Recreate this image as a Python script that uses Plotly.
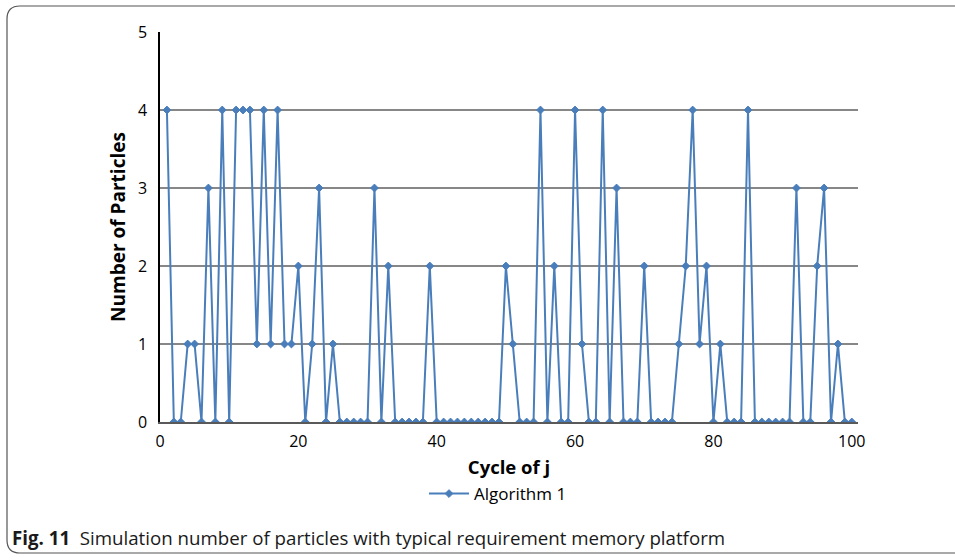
import plotly.graph_objects as go

# ---- data ----
cycles = list(range(1, 101))
particles = [
    4, 0, 0, 1, 1, 0, 3, 0, 4, 0,
    4, 4, 4, 1, 4, 1, 4, 1, 1, 2,
    0, 1, 3, 0, 1, 0, 0, 0, 0, 0,
    3, 0, 2, 0, 0, 0, 0, 0, 2, 0,
    0, 0, 0, 0, 0, 0, 0, 0, 0, 2,
    1, 0, 0, 0, 4, 0, 2, 0, 0, 4,
    1, 0, 0, 4, 0, 3, 0, 0, 0, 2,
    0, 0, 0, 0, 1, 2, 4, 1, 2, 0,
    1, 0, 0, 0, 4, 0, 0, 0, 0, 0,
    0, 3, 0, 0, 2, 3, 0, 1, 0, 0,
]
series_name = "Algorithm 1"
x_title = "Cycle of j"
y_title = "Number of Particles"
caption_bold = "Fig. 11"
caption_text = "Simulation number of particles with typical requirement memory platform"
x_ticks = [0, 20, 40, 60, 80, 100]
y_ticks = [0, 1, 2, 3, 4, 5]

# ---- layout geometry (pixels) ----
W, H = 955, 560
L, R, T, B = 160, 858, 32, 422

def px(x):
    return (x - L) / (R - L)

def py(y):
    return (B - y) / (B - T)

blue = "#4A7EBB"
font = "Open Sans"

fig = go.Figure()
fig.add_trace(go.Scatter(
    x=cycles, y=particles, mode="lines+markers", name=series_name,
    line=dict(color=blue, width=2),
    marker=dict(symbol="diamond", size=6, color=blue,
                line=dict(color=blue, width=1)),
))

fig.update_layout(
    width=W, height=H,
    margin=dict(l=L, r=W - R, t=T, b=H - B, pad=0),
    paper_bgcolor="white", plot_bgcolor="white",
    font=dict(family=font, size=16, color="#000000"),
    showlegend=True,
    legend=dict(orientation="h", x=px(498), xanchor="center",
                y=py(494), yanchor="middle",
                font=dict(family=font, size=17, color="#000000"),
                bgcolor="rgba(0,0,0,0)", itemwidth=40),
    xaxis=dict(
        range=[0, 100.9], tickvals=x_ticks, ticktext=[str(v) for v in x_ticks],
        showgrid=False, zeroline=False, showline=True,
        linecolor="#595959", linewidth=2, ticks="", ticklabelstandoff=4,
        tickfont=dict(family=font, size=16, color="#000000"),
        title=dict(text="<b>" + x_title + "</b>", standoff=10,
                   font=dict(family=font, size=18.5, color="#000000")),
    ),
    yaxis=dict(
        range=[0, 5], tickvals=y_ticks, ticktext=[str(v) for v in y_ticks],
        showgrid=True, gridcolor="#878787", gridwidth=1.5,
        zeroline=False, showline=True, linecolor="#000000", linewidth=1.5,
        ticks="", ticklabelstandoff=8,
        tickfont=dict(family=font, size=16, color="#000000"),
        title=dict(text="<b>" + y_title + "</b>", standoff=7,
                   font=dict(family=font, size=19, color="#000000")),
    ),
)

# border frame with rounded left corners
x0, x1 = px(7), px(956)
y0, y1 = py(6), py(553)
r = 13
path = (f"M {x1},{y0} L {px(7 + r)},{y0} Q {x0},{y0} {x0},{py(6 + r)} "
        f"L {x0},{py(553 - r)} Q {x0},{y1} {px(7 + r)},{y1} L {x1},{y1}")
fig.add_shape(type="path", path=path, xref="paper", yref="paper",
              line=dict(color="#555555", width=1.2), layer="below")

# caption
fig.add_annotation(
    x=px(10), y=py(537), xref="paper", yref="paper",
    xanchor="left", yanchor="middle", showarrow=False,
    text="<b>" + caption_bold + "</b>  " + caption_text,
    font=dict(family=font, size=18.7, color="#1a1a1a"),
)

fig.write_html("out.html", config={"displayModeBar": False},
               post_script="document.body.style.margin='0';")
